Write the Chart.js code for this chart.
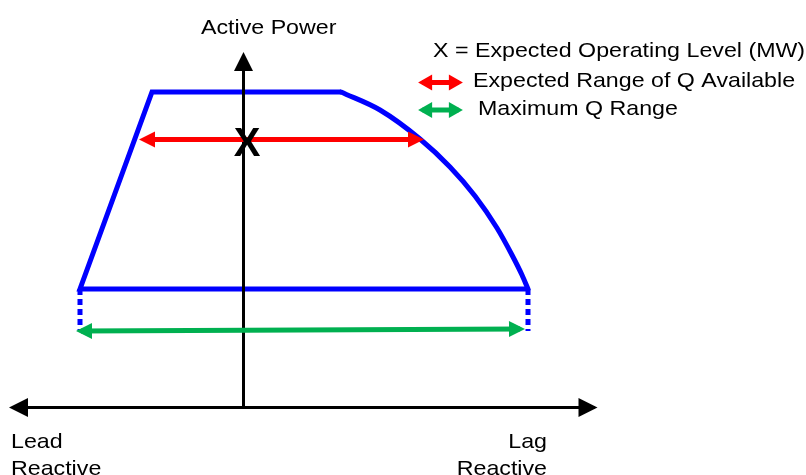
<!DOCTYPE html>
<html>
<head>
<meta charset="utf-8">
<script src="https://cdn.jsdelivr.net/npm/chart.js@4"></script>
<style>
  html, body { margin: 0; padding: 0; background: #fff; }
  canvas { display: block; }
</style>
</head>
<body>
<canvas id="mycanvas" width="806" height="475"></canvas>
<script>
// Q = reactive power (lead < 0 < lag), P = active power, same units on both axes

// capability boundary, straight part: lag corner -> lead corner -> top
var capQ = [28.45, -16.35, -9.15, 9.75];
var capP = [11.85, 11.85, 31.55, 31.55];

// capability boundary, curved lag side
var curveQ = [9.75, 13.65, 17.65, 20.65, 23.15, 25.35, 26.85, 27.85, 28.45];
var curveP = [31.55, 29.75, 26.85, 24.05, 21.15, 17.95, 15.25, 13.25, 11.85];

// dotted extensions down to the maximum range
var leadDashQ = [-16.35, -16.35];
var lagDashQ = [28.45, 28.45];
var dashP = [11.85, 7.65];

// expected range of Q available at the operating level
var expQ = [-9.95, 17.55];
var expP = [26.8, 26.8];

// maximum Q range
var maxQ = [-16.25, 27.65];
var maxP = [7.65, 7.85];

// expected operating level (MW)
var opQ = [0.35];
var opP = [26.55];

// axes
var pAxisQ = [0, 0];
var pAxisP = [0, 35.25];
var qAxisQ = [-23.15, 35.1];
var qAxisP = [0, 0];

// legend keys
var keyQ = [17.9, 21.5];
var keyExpP = [32.5, 32.5];
var keyMaxP = [29.75, 29.75];

var texts = [
	{ t: "Active Power", x: 201, y: 33.5, align: "left" },
	{ t: "X = Expected Operating Level (MW)", x: 433, y: 57, align: "left" },
	{ t: "Expected Range of Q Available", x: 473, y: 87, align: "left" },
	{ t: "Maximum Q Range", x: 478, y: 115, align: "left" },
	{ t: "Lead", x: 11, y: 448, align: "left" },
	{ t: "Reactive", x: 11, y: 475, align: "left" },
	{ t: "Lag", x: 547, y: 448, align: "right" },
	{ t: "Reactive", x: 547, y: 475, align: "right" }
];

var BLUE = "#0000FF", RED = "#FF0000", GREEN = "#00B050", BLACK = "#000000";

function line(q, p, color, width, extra) {
	var ds = {
		data: q.map(function(v, i) { return { x: v, y: p[i] }; }),
		showLine: true,
		borderColor: color,
		backgroundColor: color,
		borderWidth: width,
		pointRadius: 0,
		pointHoverRadius: 0,
		tension: 0,
		fill: false,
		borderCapStyle: "butt",
		borderJoinStyle: "miter"
	};
	for (var k in extra) ds[k] = extra[k];
	return ds;
}

// the X glyph used as the operating point marker
var xMark = document.createElement("canvas");
xMark.width = 36;
xMark.height = 36;
var g = xMark.getContext("2d");
g.fillStyle = BLACK;
g.font = 'bold 40px "Liberation Sans", Arial, sans-serif';
g.textAlign = "center";
g.textBaseline = "alphabetic";
g.fillText("X", 18, 32.3);

// filled arrow heads at line ends
var arrowHeads = {
	id: "arrowHeads",
	afterDatasetDraw: function(chart, args) {
		var ds = chart.data.datasets[args.index];
		if (!ds.heads) return;
		var pts = args.meta.data;
		var ctx = chart.ctx;
		var len = ds.heads.len, h = ds.heads.half;
		var ext = (ds.borderWidth / 2) * len / h;
		ctx.save();
		ctx.fillStyle = ds.borderColor;
		function head(a, b) {
			var dx = a.x - b.x, dy = a.y - b.y, d = Math.hypot(dx, dy);
			var ux = dx / d, uy = dy / d;
			var tx = a.x + ux * ext, ty = a.y + uy * ext;
			var bx = tx - ux * len, by = ty - uy * len;
			ctx.beginPath();
			ctx.moveTo(tx, ty);
			ctx.lineTo(bx - uy * h, by + ux * h);
			ctx.lineTo(bx + uy * h, by - ux * h);
			ctx.closePath();
			ctx.fill();
		}
		if (ds.heads.start) head(pts[0], pts[1]);
		if (ds.heads.end) head(pts[pts.length - 1], pts[pts.length - 2]);
		ctx.restore();
	}
};

var textLabels = {
	id: "textLabels",
	afterDraw: function(chart) {
		var ctx = chart.ctx;
		ctx.save();
		ctx.fillStyle = BLACK;
		ctx.font = '21px "Liberation Sans", Arial, sans-serif';
		ctx.textBaseline = "alphabetic";
		texts.forEach(function(o) {
			ctx.save();
			ctx.translate(o.x, o.y);
			ctx.scale(1.105, 1);
			ctx.textAlign = o.align;
			ctx.fillText(o.t, 0, 0);
			ctx.restore();
		});
		ctx.restore();
	}
};

var chartdata = {
	datasets: [
		line(capQ, capP, BLUE, 5, { order: 9 }),
		line(curveQ, curveP, BLUE, 5, { order: 9, cubicInterpolationMode: "monotone", borderCapStyle: "round" }),
		line(leadDashQ, dashP, BLUE, 5, { order: 9, borderDash: [6, 4] }),
		line(lagDashQ, dashP, BLUE, 5, { order: 9, borderDash: [6, 4] }),
		line(pAxisQ, pAxisP, BLACK, 3, { order: 8, heads: { end: true, len: 19, half: 9.5 } }),
		line(qAxisQ, qAxisP, BLACK, 3, { order: 8, heads: { start: true, end: true, len: 19, half: 9.5 } }),
		line(maxQ, maxP, GREEN, 5, { order: 6, heads: { start: true, end: true, len: 16, half: 8 } }),
		line(expQ, expP, RED, 5, { order: 5, heads: { start: true, end: true, len: 16, half: 8 } }),
		line(keyQ, keyExpP, RED, 5, { order: 5, heads: { start: true, end: true, len: 14, half: 8 } }),
		line(keyQ, keyMaxP, GREEN, 5, { order: 5, heads: { start: true, end: true, len: 14, half: 8 } }),
		{
			data: opQ.map(function(v, i) { return { x: v, y: opP[i] }; }),
			showLine: false,
			pointStyle: xMark,
			pointRadius: 12,
			pointHoverRadius: 12,
			order: 0
		}
	]
};

var ctx = document.getElementById("mycanvas");

var capChart = new Chart(ctx, {
	type: "scatter",
	data: chartdata,
	plugins: [arrowHeads, textLabels],
	options: {
		responsive: false,
		animation: false,
		layout: { padding: 0, autoPadding: false },
		plugins: {
			legend: { display: false },
			tooltip: { enabled: false }
		},
		scales: {
			x: { type: "linear", display: false, min: -24.35, max: 56.25 },
			y: { type: "linear", display: false, min: -6.75, max: 40.75 }
		}
	}
});
</script>
</body>
</html>
